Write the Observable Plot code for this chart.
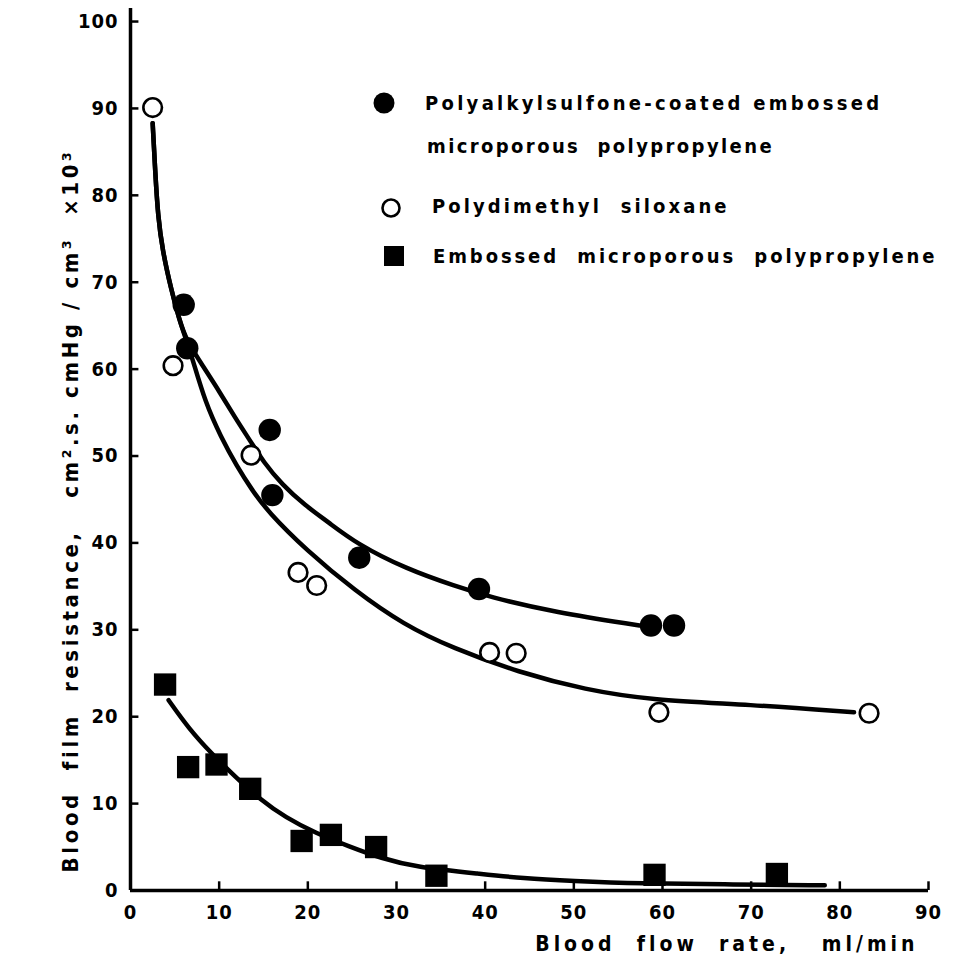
<!DOCTYPE html>
<html>
<head>
<meta charset="utf-8">
<script src="https://cdn.jsdelivr.net/npm/d3@7"></script>
<script src="https://cdn.jsdelivr.net/npm/@observablehq/plot@0.6"></script>
<style>
  html, body { margin: 0; padding: 0; background: #fff; }
  #chart { position: relative; width: 963px; height: 970px; }
  #chart svg text { white-space: pre; }
</style>
</head>
<body>
<div id="chart"></div>
<script>
// ---- Data ----
const seriesNames = [
  ["Polyalkylsulfone-coated embossed", "microporous  polypropylene"],
  ["Polydimethyl  siloxane"],
  ["Embossed  microporous  polypropylene"]
];

// Polyalkylsulfone-coated embossed microporous polypropylene (filled circles)
const filledX = [6.0, 6.4, 15.7, 16.0, 25.8, 39.3, 58.7, 61.3];
const filledY = [67.4, 62.4, 53.0, 45.5, 38.3, 34.7, 30.5, 30.5];

// Polydimethyl siloxane (open circles)
const openX = [2.5, 4.8, 13.6, 18.9, 21.0, 40.5, 43.5, 59.6, 83.3];
const openY = [90.1, 60.4, 50.1, 36.6, 35.1, 27.4, 27.3, 20.5, 20.4];

// Embossed microporous polypropylene (filled squares)
const squareX = [3.9, 6.5, 9.7, 13.5, 19.3, 22.6, 27.7, 34.5, 59.1, 72.9];
const squareY = [23.7, 14.2, 14.5, 11.7, 5.7, 6.4, 5.0, 1.7, 1.8, 1.9];

// Hand-drawn fitted curves
const filledCurveX = [2.5, 2.8, 3.1, 3.6, 4.6, 5.5, 6.3, 8.2, 10.1, 11.8, 13.6, 15.0, 17.1, 19.7, 22.3, 25.5, 31.1, 36.7, 40.4, 47.9, 57.4];
const filledCurveY = [88.3, 82.5, 77.6, 73.7, 69.1, 65.7, 63.3, 60.3, 57.3, 54.4, 51.6, 49.3, 46.7, 44.3, 42.4, 39.9, 37.0, 35.0, 33.8, 32.0, 30.5];

const openCurveX = [2.5, 2.8, 3.1, 3.6, 4.6, 5.5, 6.3, 6.9, 8.45, 10.2, 12.0, 13.7, 15.5, 19.8, 25.3, 30.8, 36.3, 43.8, 51.3, 58.8, 69.8, 81.6];
const openCurveY = [88.3, 82.5, 77.6, 73.7, 69.1, 65.7, 63.3, 61.5, 56.1, 52.2, 48.8, 46.1, 43.6, 39.2, 34.5, 30.6, 27.9, 25.1, 23.1, 21.9, 21.4, 20.5];

const squareCurveX = [4.3, 6.6, 9.2, 11.7, 14.6, 17.5, 20.9, 24.6, 28.3, 32.1, 39.6, 44.2, 49.8, 57.4, 68.0, 78.3];
const squareCurveY = [21.9, 18.6, 15.7, 13.2, 10.5, 8.4, 6.6, 5.1, 3.7, 2.7, 1.9, 1.4, 1.1, 0.8, 0.7, 0.6];

// Axes
const xTicks = [0, 10, 20, 30, 40, 50, 60, 70, 80, 90];
const yTicks = [0, 10, 20, 30, 40, 50, 60, 70, 80, 90, 100];
const xLabel = "Blood  flow  rate,   ml/min";
const yLabel = "Blood  film  resistance,   cm\u00B2.s. cmHg / cm\u00B3  \u00D710\u00B3";

// ---- Build tables ----
const zip = (xs, ys) => xs.map((x, i) => ({x, y: ys[i]}));
const filledPts = zip(filledX, filledY);
const openPts = zip(openX, openY);
const squarePts = zip(squareX, squareY);
const filledCurve = zip(filledCurveX, filledCurveY);
const openCurve = zip(openCurveX, openCurveY);
const squareCurve = zip(squareCurveX, squareCurveY);

const FONT = '"DejaVu Sans Condensed", "DejaVu Sans", sans-serif';
const yMax = 101.5;

const chart = Plot.plot({
  width: 963,
  height: 970,
  marginLeft: 130,
  marginRight: 35,
  marginTop: 8,
  marginBottom: 80,
  style: {fontFamily: FONT, fontSize: "20px", fontWeight: "bold", color: "#000", background: "#fff", fontStretch: "condensed"},
  x: {domain: [0, 90]},
  y: {domain: [0, yMax]},
  marks: [
    Plot.ruleX([0], {y1: 0, y2: yMax, strokeWidth: 3.5}),
    Plot.ruleY([0], {x1: 0, x2: 90, strokeWidth: 3.5}),
    Plot.ruleY(yTicks.filter(d => d > 0), {y: d => d, x1: 0, x2: 0.95, strokeWidth: 2.5}),
    Plot.ruleX(xTicks.filter(d => d > 0), {x: d => d, y1: 0, y2: 1.0, strokeWidth: 2.5}),
    Plot.axisY({ticks: yTicks, tickSize: 0, tickPadding: 12, label: null, tickFormat: d => String(d)}),
    Plot.axisX({ticks: xTicks, tickSize: 0, tickPadding: 14, label: null, tickFormat: d => String(d)}),
    Plot.line(filledCurve, {x: "x", y: "y", curve: "basis", strokeWidth: 4.5}),
    Plot.line(openCurve, {x: "x", y: "y", curve: "basis", strokeWidth: 4.5}),
    Plot.line(squareCurve, {x: "x", y: "y", curve: "basis", strokeWidth: 4.5}),
    Plot.dot(openPts, {x: "x", y: "y", r: 9.3, fill: "white", stroke: "black", strokeWidth: 2.6}),
    Plot.dot(filledPts, {x: "x", y: "y", r: 11.2, fill: "black"}),
    Plot.dot(squarePts, {x: "x", y: "y", r: 12.6, symbol: "square", fill: "black"}),
    Plot.text([yLabel], {text: d => d, frameAnchor: "left", textAnchor: "middle", rotate: -90, dx: -60, dy: 61, fontSize: 22}),
    Plot.text([xLabel], {text: d => d, frameAnchor: "bottom-right", textAnchor: "end", dx: -10, dy: 60, fontSize: 21})
  ]
});

document.getElementById("chart").appendChild(chart);

// letter spacing for the typewriter-like lettering
const svg = d3.select(chart);
svg.selectAll("text").attr("letter-spacing", 1);
svg.selectAll("text").filter(function() { return this.textContent === yLabel; }).attr("letter-spacing", 3.6);
svg.selectAll("text").filter(function() { return this.textContent === xLabel; }).attr("letter-spacing", 4);

// ---- Legend (inside plot area, top right) ----
const lg = svg.append("g").attr("font-family", FONT).attr("font-size", 20).attr("font-weight", "bold")
  .attr("text-anchor", "start").style("white-space", "pre");
const addText = (x, y, s, ls) => lg.append("text").attr("x", x).attr("y", y).attr("text-anchor", "start")
  .attr("letter-spacing", ls).attr("dominant-baseline", "central").text(s);
// filled circle entry
lg.append("circle").attr("cx", 384).attr("cy", 103).attr("r", 10.5).attr("fill", "black");
addText(425, 103, seriesNames[0][0], 3.3);
addText(427, 146, seriesNames[0][1], 2.4);
// open circle entry
lg.append("circle").attr("cx", 391).attr("cy", 208).attr("r", 8.5).attr("fill", "white").attr("stroke", "black").attr("stroke-width", 2.6);
addText(432, 206, seriesNames[1][0], 3.1);
// square entry
lg.append("rect").attr("x", 384).attr("y", 246).attr("width", 20).attr("height", 20).attr("fill", "black");
addText(433, 256, seriesNames[2][0], 2.9);
</script>
</body>
</html>
